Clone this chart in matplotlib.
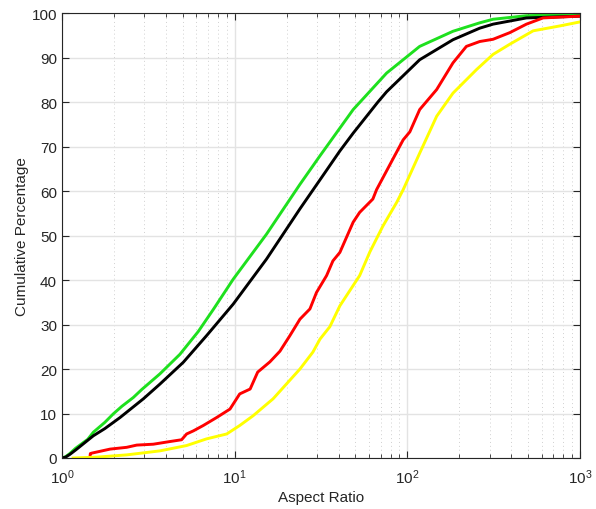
import numpy as np
import matplotlib
matplotlib.use('Agg')
from matplotlib import pyplot as plt
from matplotlib.ticker import LogLocator, NullFormatter, MultipleLocator

plt.rcParams['font.family'] = ['Liberation Sans', 'DejaVu Sans']

# curves: (aspect ratio, cumulative percentage)
green_x = [1.0, 1.05, 1.11, 1.2, 1.41, 1.52, 1.77, 1.98, 2.22, 2.59, 2.9, 3.69, 4.82,
           6.15, 7.5, 9.82, 15.3, 23.9, 31.2, 48.6, 75.9, 118, 184, 263, 314, 490, 1000]
green_y = [0, 0.3, 1.0, 2.2, 4.2, 5.8, 8.0, 9.9, 11.6, 13.6, 15.4, 18.9, 23.3,
           28.4, 33.3, 40.2, 50.3, 61.5, 67.9, 78.3, 86.5, 92.5, 95.9, 97.8, 98.6, 99.4, 99.7]

black_x = [1.0, 1.05, 1.11, 1.2, 1.52, 1.77, 2.17, 2.96, 3.69, 5.04, 6.88, 9.82,
           15.3, 23.9, 31.2, 40.7, 48.6, 67.6, 75.9, 118, 184, 263, 314, 490, 1000]
black_y = [0, 0.2, 0.8, 1.8, 5.0, 6.6, 9.1, 13.3, 16.6, 21.5, 27.5, 34.6,
           44.7, 56, 62.5, 69, 73, 80, 82.3, 89.5, 94, 96.6, 97.5, 98.9, 99.3]

red_x = [1.45, 1.46, 1.49, 1.9, 2.37, 2.71, 3.38, 4.22, 4.93, 5.27, 5.77, 6.58, 7.87,
         9.4, 10.7, 12.3, 13.6, 16, 18.3, 20.9, 23.9, 27.3, 29.8, 34.1, 37.1, 40.7,
         48.6, 53, 63.2, 66.4, 82.6, 94.7, 103.5, 118, 148, 184, 220, 263, 314, 393,
         490, 612, 1000]
red_y = [0, 1.0, 1.1, 2.0, 2.4, 2.9, 3.1, 3.7, 4.1, 5.4, 6.1, 7.3, 9.1,
         11, 14.4, 15.5, 19.3, 21.6, 24, 27.5, 31.2, 33.5, 37.2, 41, 44.3, 46.2,
         53, 55.2, 58.2, 60.3, 67.2, 71.5, 73.3, 78.3, 82.8, 88.8, 92.5, 93.6, 94.1, 95.6,
         97.5, 98.9, 99.3]

yellow_x = [1.16, 1.6, 2.37, 3.69, 5.27, 6.88, 9.0, 10.7, 12.8, 16.7, 23.9, 28.4, 31.2,
            35.6, 40.7, 53, 60.7, 72.2, 87, 94.7, 118, 148, 184, 252, 314, 393, 536,
            765, 1000]
yellow_y = [0, 0.2, 0.7, 1.6, 2.8, 4.3, 5.4, 7.3, 9.5, 13.3, 20, 23.8, 26.7,
            29.5, 34.2, 41, 46.3, 52.1, 57.5, 60.3, 68.5, 76.8, 82, 87.3, 90.7, 93, 96,
            97.1, 98]

fig = plt.figure(figsize=(5.96, 5.10), dpi=100)
ax = fig.add_axes([0.104, 0.1, 0.869, 0.8725])

ax.plot(green_x, green_y, color='#1ee01e', lw=2.1)
ax.plot(black_x, black_y, color='black', lw=2.1)
ax.plot(red_x, red_y, color='#ff0000', lw=2.1)
ax.plot(yellow_x, yellow_y, color='#ffff00', lw=2.1)

ax.set_xscale('log')
ax.set_xlim(1, 1000)
ax.set_ylim(0, 100)
ax.yaxis.set_major_locator(MultipleLocator(10))
ax.xaxis.set_minor_locator(LogLocator(base=10, subs=np.arange(2, 10)))
ax.xaxis.set_minor_formatter(NullFormatter())

ax.grid(True, which='major', color='#e3e3e3', lw=1.0, ls='-')
ax.grid(True, which='minor', axis='x', color='#d0d0d0', lw=0.7, ls=(0, (1, 3)))
ax.set_axisbelow(True)

ax.tick_params(which='both', direction='in', top=True, right=True, colors='#262626',
               labelsize=11)
ax.tick_params(which='major', length=5)
ax.tick_params(which='minor', length=3)
ax.tick_params(axis='x', which='major', pad=7)
for s in ax.spines.values():
    s.set_color('#262626')

ax.set_xlabel('Aspect Ratio', fontsize=11, color='#262626', labelpad=3)
ax.set_ylabel('Cumulative Percentage', fontsize=11, color='#262626', labelpad=2)

fig.savefig('out.png', dpi=100)
